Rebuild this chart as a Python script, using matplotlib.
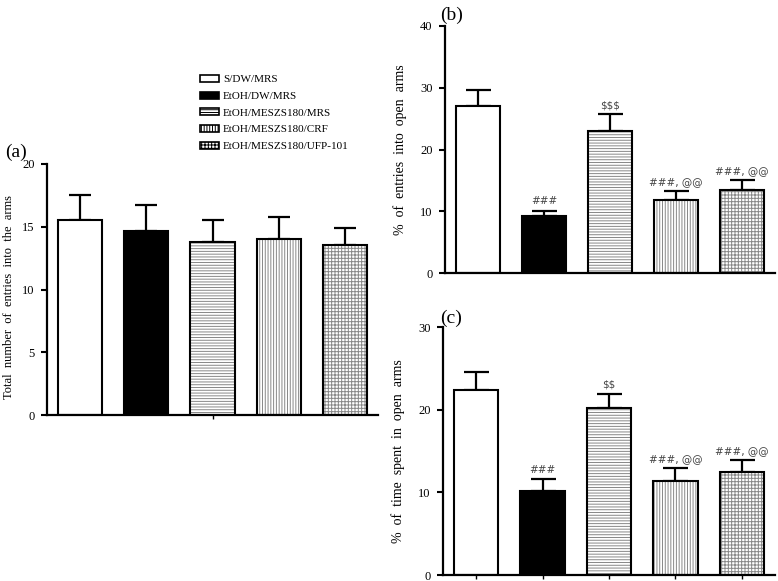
import numpy as np
import matplotlib
matplotlib.use("Agg")
import matplotlib.pyplot as plt
from matplotlib.patches import Patch

plt.rcParams['font.family'] = ['Liberation Serif', 'DejaVu Serif']
plt.rcParams['hatch.linewidth'] = 0.7
plt.rcParams['text.parse_math'] = False  # keep the $ signs literal

# groups
groups = ['S/DW/MRS', 'EtOH/DW/MRS', 'EtOH/MESZS180/MRS',
          'EtOH/MESZS180/CRF', 'EtOH/MESZS180/UFP-101']

# (a) total entries
a_mean = [15.55, 14.7, 13.75, 14.05, 13.55]
a_sem = [1.95, 2.0, 1.75, 1.7, 1.35]

# (b) % entries into open arms
b_mean = [27.1, 9.2, 23.0, 11.9, 13.4]
b_sem = [2.6, 0.9, 2.7, 1.4, 1.65]
b_marks = ['', '###', '$$$', '###, @@', '###, @@']

# (c) % time in open arms
c_mean = [22.4, 10.2, 20.2, 11.4, 12.4]
c_sem = [2.1, 1.4, 1.7, 1.5, 1.5]
c_marks = ['', '###', '$$', '###, @@', '###, @@']

fills = ['white', 'black', 'white', 'white', 'white']
hatches = [None, None, '------', '||||||', '+++++']

W, H = 778, 581
fig = plt.figure(figsize=(W / 100, H / 100), dpi=100)


def px_axes(l, r, t, b):
    return fig.add_axes([l / W, 1 - b / H, (r - l) / W, (b - t) / H])


def draw(ax, mean, sem, ymax, ystep, capsize, marks=None):
    x = np.arange(len(mean))
    ax.bar(x, mean, width=0.67, color=fills, edgecolor='#888888',
           linewidth=0, hatch=hatches, zorder=2)
    ax.bar(x, mean, width=0.67, color='none', edgecolor='black',
           linewidth=1.5, zorder=3)
    ax.errorbar(x, mean, yerr=[np.zeros(len(sem)), sem], fmt='none',
                ecolor='black', elinewidth=1.6, capsize=capsize,
                capthick=1.6, zorder=1)
    if marks:
        for xi, m, s, t in zip(x, mean, sem, marks):
            if t:
                ax.annotate(t, (xi, m + s), xytext=(0, 3),
                            textcoords='offset points', ha='center',
                            va='bottom', fontsize=7.5, color='#444444',
                            family='DejaVu Sans')
    ax.set_xlim(-0.5, len(mean) - 0.5)
    ax.set_ylim(0, ymax)
    ax.set_yticks(np.arange(0, ymax + 0.1, ystep))
    for s in ['top', 'right']:
        ax.spines[s].set_visible(False)
    for s in ['left', 'bottom']:
        ax.spines[s].set_linewidth(1.6)
    ax.tick_params(axis='y', length=4, width=1.5, labelsize=9, pad=5)
    ax.tick_params(axis='x', length=3, width=1, labelbottom=False)


ax_a = px_axes(47, 378, 164, 415)
draw(ax_a, a_mean, a_sem, 20, 5, 8)
ax_a.set_xticks([2])
ax_a.set_ylabel('Total  number  of  entries  into  the  arms', fontsize=9)
ax_a.yaxis.set_label_coords(-0.098, 0.47)

ax_b = px_axes(445, 775, 26, 273)
draw(ax_b, b_mean, b_sem, 40, 10, 9, b_marks)
ax_b.set_xticks([])
ax_b.set_ylabel('%  of  entries  into  open  arms', fontsize=10)
ax_b.yaxis.set_label_coords(-0.115, 0.5)

ax_c = px_axes(443, 775, 327, 575)
draw(ax_c, c_mean, c_sem, 30, 10, 9, c_marks)
ax_c.set_xticks(np.arange(5))
ax_c.set_ylabel('%  of  time  spent  in  open  arms', fontsize=10)
ax_c.yaxis.set_label_coords(-0.115, 0.5)

fig.text(5 / W, 1 - 152 / H, '(a)', fontsize=14, va='center', ha='left')
fig.text(440 / W, 1 - 15 / H, '(b)', fontsize=14, va='center', ha='left')
fig.text(440 / W, 1 - 318 / H, '(c)', fontsize=14, va='center', ha='left')

handles = [Patch(facecolor=f, edgecolor='black', hatch=h, linewidth=1.2)
           for f, h in zip(fills, hatches)]
fig.legend(handles, groups, loc='upper left',
           bbox_to_anchor=(200 / W, 1 - 75 / H), frameon=False,
           fontsize=8, handlelength=1.7, handleheight=0.6,
           handletextpad=0.35, labelspacing=0.65, borderaxespad=0,
           borderpad=0)

fig.savefig('out.png', dpi=100)
